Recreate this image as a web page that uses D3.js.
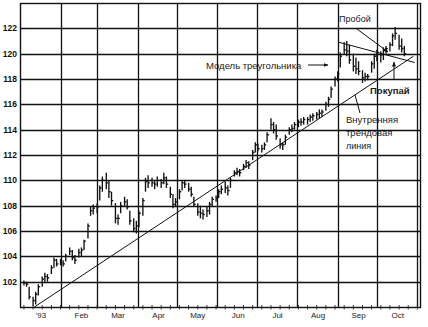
<!DOCTYPE html>
<html><head><meta charset="utf-8">
<script src="https://cdn.jsdelivr.net/npm/d3@7"></script>
<style>body{margin:0;background:#fff}svg{display:block}</style>
</head><body>
<svg id="c" width="428" height="327"></svg>
<script>
// Week start (Monday) dates; three bars per week (Mon, Wed, Fri)
const weeks = ["1993-01-04","1993-01-11","1993-01-18","1993-01-25","1993-02-01","1993-02-08","1993-02-15","1993-02-22",
"1993-03-01","1993-03-08","1993-03-15","1993-03-22","1993-03-29","1993-04-05","1993-04-12","1993-04-19","1993-04-26",
"1993-05-03","1993-05-10","1993-05-17","1993-05-24","1993-05-31","1993-06-07","1993-06-14","1993-06-21","1993-06-28",
"1993-07-05","1993-07-12","1993-07-19","1993-07-26","1993-08-02","1993-08-09","1993-08-16","1993-08-23","1993-08-30",
"1993-09-06","1993-09-13","1993-09-20","1993-09-27","1993-10-04","1993-10-11","1993-10-18"];
const highs = [
102.1,102.0,101.6, 100.8,101.2,101.8, 102.4,102.7,102.6, 103.3,103.9,103.8,
103.8,103.7,104.2, 104.7,104.5,104.1, 104.6,104.7,105.3, 106.6,107.9,108.1,
108.2,109.6,110.3, 110.6,110.0,109.1, 108.2,107.3,108.3, 108.7,108.5,107.6,
107.0,106.8,107.6, 108.6,110.2,110.4, 110.2,110.0,110.3, 110.1,110.6,110.3,
109.5,108.9,108.6, 109.3,110.0,110.0, 109.8,109.5,108.7, 108.2,108.0,107.7,
107.9,108.3,108.7, 108.8,109.3,109.6, 109.9,109.6,110.2, 110.8,111.0,110.9,
111.3,111.6,111.5, 112.4,113.0,112.9, 112.8,113.0,113.8, 114.9,114.6,114.4,
113.3,113.0,113.6, 114.2,114.4,114.6, 114.8,114.9,115.0, 115.0,115.2,115.3,
115.4,115.6,115.6, 116.2,116.6,117.4, 118.2,118.6,120.1, 120.9,121.0,120.7,
120.0,119.7,119.4, 118.7,118.5,118.4, 119.4,120.0,120.3, 120.2,120.5,120.6,
120.9,121.6,122.1, 121.5,121.2,120.6];
const lows = [
101.7,101.6,100.6, 100.1,100.2,100.9, 101.6,101.9,102.0, 102.6,103.1,103.2,
103.3,103.2,103.6, 104.1,103.7,103.4, 103.9,104.0,104.5, 105.4,107.2,107.3,
107.4,108.4,109.1, 109.3,108.6,108.0, 106.6,106.5,107.4, 107.9,107.7,106.5,
105.9,105.8,106.3, 107.2,109.1,109.4, 109.5,109.3,109.5, 109.4,109.7,109.4,
108.6,107.8,107.9, 108.5,109.2,109.4, 109.1,108.7,107.9, 107.2,107.0,106.9,
107.1,107.3,107.9, 108.3,108.6,108.9, 109.0,108.8,109.4, 110.3,110.4,110.3,
110.8,111.0,110.9, 111.6,112.2,112.3, 112.2,112.4,113.0, 114.0,113.7,113.2,
112.5,112.4,112.8, 113.6,113.8,114.0, 114.2,114.3,114.4, 114.4,114.6,114.7,
114.8,114.9,115.0, 115.5,115.8,116.5, 117.4,117.8,118.9, 119.9,119.8,119.2,
118.6,118.4,118.3, 117.7,117.8,117.9, 118.5,118.8,119.4, 119.3,119.5,120.0,
120.2,120.6,121.1, 120.3,120.1,119.8];
const closes = [
101.9,101.8,100.8, 100.5,101.0,101.6, 102.2,102.4,102.3, 103.1,103.7,103.4,
103.5,103.4,104.0, 104.4,103.9,103.7, 104.3,104.5,105.2, 106.4,107.6,107.8,
107.9,109.4,110.0, 109.8,109.1,108.4, 107.0,107.0,108.0, 108.3,107.9,106.8,
106.2,106.4,107.4, 108.4,109.9,109.8, 109.8,109.7,110.0, 109.8,110.2,109.7,
108.9,108.1,108.3, 109.1,109.8,109.7, 109.3,108.9,108.1, 107.5,107.4,107.3,
107.6,108.1,108.5, 108.6,109.1,109.3, 109.4,109.2,110.0, 110.6,110.7,110.6,
111.1,111.4,111.2, 112.2,112.8,112.5, 112.5,112.8,113.6, 114.4,114.0,113.5,
112.8,112.8,113.4, 114.0,114.1,114.4, 114.6,114.6,114.8, 114.8,115.0,115.1,
115.2,115.3,115.4, 116.0,116.4,117.2, 118.0,118.4,119.8, 120.3,120.2,119.5,
119.0,118.8,118.6, 118.1,118.2,118.2, 119.2,119.8,120.1, 119.9,120.3,120.4,
120.7,121.4,121.6, 120.6,120.4,120.0];
const yTicks = [102,104,106,108,110,112,114,116,118,120,122];
const monthLabels = ["'93","Feb","Mar","Apr","May","Jun","Jul","Aug","Sep","Oct"];
// trendline & triangle lines: [date, value]
const trendLine = [["1993-01-12",100.0],["1993-10-29",119.8]];
const triangleTop = [["1993-09-02",120.9],["1993-10-30",119.3]];

const parse = d3.timeParse("%Y-%m-%d");
const svg = d3.select("#c");
const L=20, R=420, T=3, B=307;
const x = d3.scaleTime().domain([new Date(1993,0,1), new Date(1993,10,3)]).range([L,R]);
const y = d3.scaleLinear().domain([100,124]).range([B,T]);

// bars
const bars = [];
weeks.forEach((w,i)=>{
  const d0 = parse(w);
  [0,2,4].forEach((off,j)=>{
    const k = i*3+j;
    if (k < highs.length) bars.push({d:d3.timeDay.offset(d0,off),h:highs[k],l:lows[k],c:closes[k]});
  });
});

const g = svg.append("g");
// grid
g.selectAll(".hg").data(yTicks).join("line")
 .attr("x1",L).attr("x2",R).attr("y1",d=>Math.round(y(d))+0.5).attr("y2",d=>Math.round(y(d))+0.5)
 .attr("stroke","#111").attr("stroke-width",1.3);
const monthStarts = d3.timeMonth.range(new Date(1993,1,1), new Date(1993,10,2));
g.selectAll(".vg").data(monthStarts).join("line")
 .attr("x1",d=>Math.round(x(d))+0.5).attr("x2",d=>Math.round(x(d))+0.5).attr("y1",T).attr("y2",B)
 .attr("stroke","#111").attr("stroke-width",1.3);
// frame
g.append("rect").attr("x",L+0.5).attr("y",T+0.5).attr("width",R-L).attr("height",B-T)
 .attr("fill","none").attr("stroke","#111").attr("stroke-width",1.4);

// bottom weekly ticks
const wk = d3.timeMonday.range(new Date(1993,0,4), new Date(1993,10,2));
g.selectAll(".wt").data(wk).join("line")
 .attr("x1",d=>x(d)).attr("x2",d=>x(d)).attr("y1",B-2).attr("y2",B+2.5)
 .attr("stroke","#222").attr("stroke-width",0.9);

// y labels
g.selectAll(".yl").data(yTicks).join("text")
 .attr("x",17).attr("y",d=>y(d)+3).attr("text-anchor","end")
 .attr("font-family","Liberation Sans, Arial, sans-serif").attr("font-weight","bold")
 .attr("font-size",8.5).attr("fill","#111").text(d=>d);
// x labels
const labelDates = d3.range(10).map(i=>new Date(1993,i,17));
g.selectAll(".xl").data(monthLabels).join("text")
 .attr("x",(d,i)=>x(labelDates[i])).attr("y",318).attr("text-anchor","middle")
 .attr("font-family","Liberation Sans, Arial, sans-serif")
 .attr("font-size",8).attr("fill","#222").text(d=>d);

// OHLC bars
const bg = g.append("g").attr("stroke","#111").attr("stroke-width",1.35);
bg.selectAll(".b").data(bars).join("line")
 .attr("x1",d=>x(d.d)).attr("x2",d=>x(d.d)).attr("y1",d=>y(d.h)).attr("y2",d=>y(d.l));
bg.selectAll(".c").data(bars).join("line")
 .attr("x1",d=>x(d.d)).attr("x2",d=>x(d.d)+1.8).attr("y1",d=>y(d.c)).attr("y2",d=>y(d.c));

// trend lines
const lineGen = d3.line().x(d=>x(parse(d[0]))).y(d=>y(d[1]));
g.append("path").attr("d",lineGen(trendLine)).attr("fill","none").attr("stroke","#111").attr("stroke-width",1);
g.append("path").attr("d",lineGen(triangleTop)).attr("fill","none").attr("stroke","#111").attr("stroke-width",1);

// annotations
const defs = svg.append("defs");
defs.append("marker").attr("id","ah").attr("viewBox","0 0 10 10").attr("refX",9).attr("refY",5)
 .attr("markerWidth",5).attr("markerHeight",5).attr("orient","auto")
 .append("path").attr("d","M0,1 L10,5 L0,9 Z").attr("fill","#111");
const font = "Liberation Sans, Arial, sans-serif";
function txt(t,xx,yy,opts={}){
  g.append("text").attr("x",xx).attr("y",yy).attr("font-family",font)
   .attr("font-size",opts.size||9.5).attr("font-weight",opts.bold?"bold":"normal")
   .attr("fill","#1a1a1a").text(t);
}
txt("Пробой",339,22,{size:9});
txt("Модель треугольника",206,69,{size:9.5});
txt("Покупай",370,94,{size:9.5,bold:true});
txt("Внутренняя",346,123,{size:9.5});
txt("трендовая",346,136,{size:9.5});
txt("линия",346,149,{size:9});
function arrow(x1,y1,x2,y2,head=true){
  const p = g.append("line").attr("x1",x1).attr("y1",y1).attr("x2",x2).attr("y2",y2)
   .attr("stroke","#111").attr("stroke-width",1);
  if(head) p.attr("marker-end","url(#ah)");
}
arrow(308,65,328,65);
arrow(357,29,388,52);
arrow(394,80,394,62);
arrow(360,113,355,95,false);
</script>
</body></html>
